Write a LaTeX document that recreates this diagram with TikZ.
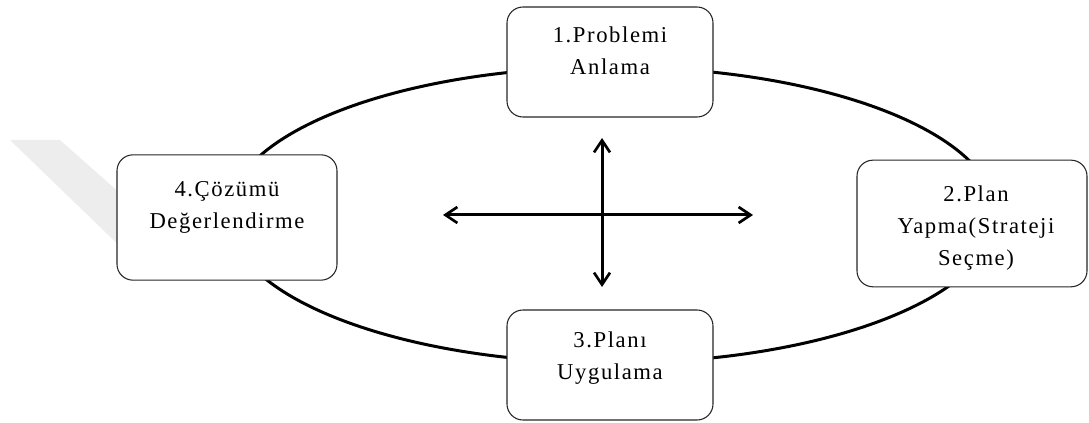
\documentclass[tikz,border=0pt]{standalone}
\usepackage{fontspec}
\setmainfont{Liberation Serif}
\newfontfamily\stagefont[LetterSpace=7]{Liberation Serif}
\usetikzlibrary{arrows.meta}
\begin{document}
\begin{tikzpicture}[x=0.75pt,y=-0.75pt,
  stagebox/.style={draw=black!85,line width=0.8pt,fill=white,rounded corners=12pt,inner sep=0pt},
  stagetext/.style={align=center,inner sep=0pt,anchor=north,
    font=\stagefont\fontsize{17pt}{24pt}\selectfont},
  cycle line/.style={line width=2.25pt,black},
  twoway/.style={line width=2.25pt,black,
    {Straight Barb[length=9pt,width=12pt,line width=2pt]}-{Straight Barb[length=9pt,width=12pt,line width=2pt]}}]
\useasboundingbox (0,0) rectangle (1089,423);

% faint band in the background on the left
\fill[black!7] (10,140) -- (60,140) -- (130,202) -- (130,256) -- cycle;

% the cycle joining the four stages
\coordinate (cc) at (612,215);
\draw[cycle line] (cc) ellipse [x radius=288pt, y radius=111pt];

% the four stages
\node[stagebox,minimum width=154.5pt,minimum height=82.5pt] (s1) at (610,62) {};
\node[stagebox,minimum width=172.5pt,minimum height=95pt] (s2) at (972,223.5) {};
\node[stagebox,minimum width=154.5pt,minimum height=82.5pt] (s3) at (610,365) {};
\node[stagebox,minimum width=165pt,minimum height=94pt] (s4) at (227,217.5) {};

\node[stagetext] (t1) at (610,27) {1.Problemi\\Anlama};
\node[stagetext] (t2) at (976,186) {2.Plan\\Yapma(Strateji\\Seçme)};
\node[stagetext] (t3) at (610,332) {3.Planı\\Uygulama};
\node[stagetext] (t4) at (227,181) {4.Çözümü\\Değerlendirme};

% central cross of double-headed arrows
\coordinate (hl) at (443,215);
\coordinate (hr) at (753,215);
\coordinate (vt) at (602,138);
\coordinate (vb) at (602,287);
\draw[twoway] (hl) -- (hr);
\draw[twoway] (vt) -- (vb);
\end{tikzpicture}
\end{document}
